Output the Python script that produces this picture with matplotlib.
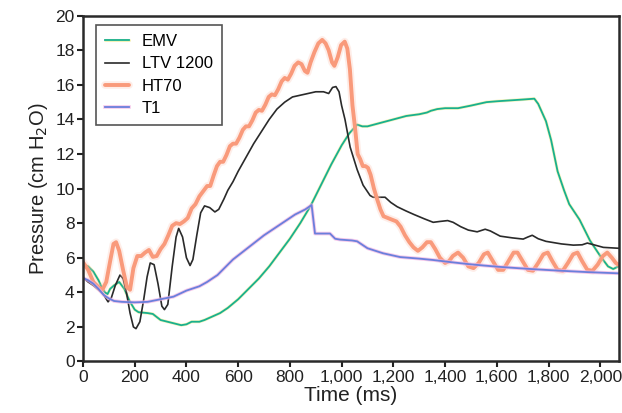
import matplotlib
matplotlib.use("Agg")
import matplotlib.pyplot as plt
from matplotlib.legend_handler import HandlerTuple
from matplotlib.ticker import FuncFormatter

plt.rcParams['font.family'] = ['Liberation Sans', 'DejaVu Sans']

# ---------------- data ----------------
emv_t = [0, 20, 40, 60, 75, 85, 95, 105, 120, 140, 160, 180, 200, 215, 250, 270, 300, 340, 380,
         400, 420, 450, 470, 500, 530, 560, 600, 640, 680, 720, 760, 800, 840, 880, 920, 960,
         1000, 1030, 1060, 1080, 1100, 1150, 1200, 1250, 1300, 1330, 1345, 1370, 1400, 1450,
         1500, 1560, 1600, 1650, 1700, 1745, 1760, 1790, 1810, 1835, 1860, 1880, 1920, 1960,
         2000, 2030, 2050, 2070]
emv_p = [5.6, 5.5, 5.2, 4.7, 4.2, 4.0, 3.9, 4.2, 4.4, 4.6, 4.2, 3.5, 3.0, 2.85, 2.8, 2.75, 2.4,
         2.25, 2.1, 2.15, 2.3, 2.3, 2.4, 2.6, 2.8, 3.1, 3.6, 4.2, 4.8, 5.5, 6.3, 7.1, 8.0, 9.0,
         10.2, 11.4, 12.5, 13.2, 13.7, 13.6, 13.6, 13.8, 14.0, 14.2, 14.3, 14.4, 14.5, 14.6,
         14.65, 14.65, 14.8, 15.0, 15.05, 15.1, 15.15, 15.2, 14.9, 13.9, 12.8, 11.0, 9.9, 9.1,
         8.2, 7.0, 6.1, 5.5, 5.35, 5.5]

ltv_t = [0, 20, 40, 60, 78, 97, 110, 125, 143, 155, 168, 182, 195, 205, 220, 235, 248, 260, 275,
         290, 305, 315, 328, 345, 360, 370, 385, 400, 414, 425, 440, 455, 470, 490, 510, 525,
         545, 560, 580, 600, 630, 660, 690, 720, 750, 780, 810, 840, 870, 900, 930, 950, 965,
         978, 990, 1000, 1013, 1033, 1060, 1083, 1110, 1122, 1168, 1190, 1215, 1250, 1280,
         1320, 1354, 1380, 1410, 1431, 1460, 1490, 1524, 1555, 1575, 1613, 1660, 1702, 1720,
         1737, 1760, 1790, 1850, 1896, 1930, 1950, 1975, 2012, 2070]
ltv_p = [4.85, 4.6, 4.4, 4.15, 3.9, 3.45, 3.7, 4.4, 5.0, 4.8, 4.0, 2.8, 2.0, 1.9, 2.3, 3.6, 4.9,
         5.7, 5.6, 4.5, 3.2, 3.0, 3.3, 5.5, 7.2, 7.7, 7.2, 6.0, 5.55, 5.9, 7.3, 8.6, 9.0, 8.9,
         8.65, 8.8, 9.4, 9.9, 10.4, 11.0, 11.8, 12.6, 13.3, 14.0, 14.6, 15.0, 15.3, 15.4, 15.5,
         15.6, 15.6, 15.5, 15.85, 15.9, 15.6, 14.8, 14.0, 12.4, 11.1, 10.2, 9.6, 9.5, 9.5, 9.2,
         8.95, 8.7, 8.5, 8.25, 8.05, 8.1, 8.15, 8.05, 7.8, 7.6, 7.5, 7.65, 7.55, 7.25, 7.15,
         7.08, 7.2, 7.3, 7.1, 6.95, 6.8, 6.73, 6.75, 6.85, 6.75, 6.6, 6.55]

ht_t = [0, 20, 40, 60, 75, 90, 105, 118, 128, 140, 155, 170, 182, 195, 210, 225, 240, 255, 270,
        285, 300, 315, 330, 345, 360, 375, 390, 405, 420, 435, 450, 465, 480, 492, 505, 518,
        530, 542, 555, 568, 580, 592, 605, 618, 630, 642, 655, 668, 680, 692, 705, 718, 730,
        742, 755, 768, 780, 792, 805, 818, 832, 845, 858, 868, 880, 895, 910, 925, 938, 950,
        963, 972, 985, 998, 1012, 1022, 1032, 1042, 1052, 1062, 1072, 1082, 1092, 1102, 1112,
        1125, 1137, 1150, 1162, 1178, 1195, 1212, 1228, 1245, 1262, 1278, 1295, 1312, 1330,
        1345, 1362, 1380, 1400, 1415, 1430, 1450, 1470, 1490, 1510, 1530, 1550, 1565, 1585,
        1605, 1625, 1645, 1665, 1680, 1700, 1720, 1740, 1760, 1780, 1797, 1815, 1835, 1855,
        1875, 1895, 1912, 1930, 1950, 1970, 1990, 2010, 2027, 2045, 2060, 2070]
ht_p = [5.75, 5.3, 4.6, 4.3, 4.15, 4.6, 5.8, 6.8, 6.9, 6.4, 5.3, 4.3, 4.15, 5.4, 6.1, 6.1, 6.3,
        6.45, 6.05, 6.1, 6.5, 6.8, 7.3, 7.85, 8.0, 7.95, 8.1, 8.3, 8.85, 9.1, 9.55, 9.85, 10.15,
        10.15, 10.75, 11.3, 11.55, 11.55, 11.95, 12.45, 12.6, 12.6, 12.95, 13.4, 13.6, 13.6,
        13.95, 14.4, 14.55, 14.5, 14.85, 15.3, 15.45, 15.4, 15.75, 16.2, 16.4, 16.3, 16.65,
        17.1, 17.3, 17.2, 16.8, 16.7, 17.3, 17.9, 18.4, 18.6, 18.4, 18.0, 17.3, 17.1, 17.6,
        18.3, 18.5, 18.1, 16.9, 14.8, 13.5, 12.0, 11.7, 11.3, 11.3, 11.2, 10.8, 10.0, 9.4,
        8.8, 8.4, 8.3, 8.2, 8.1, 7.8, 7.3, 6.9, 6.6, 6.4, 6.6, 6.9, 6.9, 6.5, 6.0, 5.7, 5.8,
        6.1, 6.3, 6.0, 5.5, 5.4, 5.7, 6.2, 6.3, 5.8, 5.3, 5.3, 5.8, 6.3, 6.3, 5.8, 5.3, 5.25,
        5.7, 6.2, 6.3, 5.8, 5.3, 5.25, 5.7, 6.2, 6.3, 5.8, 5.3, 5.25, 5.6, 6.1, 6.3, 6.0,
        5.7, 5.6]

t1_t = [0, 20, 40, 60, 80, 100, 120, 150, 200, 250, 300, 350, 400, 450, 480, 520, 580, 640, 700,
        760, 820, 860, 884, 897, 920, 955, 975, 994, 1040, 1060, 1080, 1100, 1160,
        1226, 1300, 1354, 1420, 1486, 1550, 1613, 1680, 1741, 1810, 1872, 1950, 2070]
t1_p = [4.83, 4.7, 4.5, 4.2, 3.85, 3.65, 3.5, 3.45, 3.42, 3.45, 3.6, 3.75, 4.1, 4.35, 4.6, 5.0,
        5.9, 6.6, 7.3, 7.9, 8.5, 8.8, 9.05, 7.4, 7.4, 7.4, 7.1, 7.05, 7.0, 6.95,
        6.75, 6.55, 6.26, 6.04, 5.95, 5.87, 5.75, 5.64, 5.55, 5.47, 5.4, 5.34, 5.28, 5.23,
        5.17, 5.1]

labels = ['EMV', 'LTV 1200', 'HT70', 'T1']
x_ticks = list(range(0, 2001, 200))
y_ticks = list(range(0, 21, 2))

# ---------------- figure ----------------
fig = plt.figure(figsize=(6.22, 4.13), dpi=100)
ax = fig.add_axes([0.1334, 0.1247, 0.8616, 0.8373])

# EMV (teal with faint yellow halo)
e_h, = ax.plot(emv_t, emv_p, color='#eee88a', lw=2.2, alpha=0.6, solid_capstyle='round')
e_m, = ax.plot(emv_t, emv_p, color='#18b08e', lw=1.3)
# LTV 1200
l_m, = ax.plot(ltv_t, ltv_p, color='#2a2a2a', lw=1.2)
# HT70 (thick salmon with soft blur)
h_h, = ax.plot(ht_t, ht_p, color='#fcc6b4', lw=5.5, alpha=0.3, solid_capstyle='round')
h_m, = ax.plot(ht_t, ht_p, color='#f99a7b', lw=2.8, solid_capstyle='round')
# T1 (blue with faint pink halo)
t_h, = ax.plot(t1_t, t1_p, color='#f2b3e2', lw=2.6, alpha=0.7)
t_m, = ax.plot(t1_t, t1_p, color='#6a7fdc', lw=1.3)

ax.set_xlim(0, 2072)
ax.set_ylim(0, 20)
ax.set_xticks(x_ticks)
ax.set_yticks(y_ticks)
ax.xaxis.set_major_formatter(FuncFormatter(lambda v, p: f"{int(v):,}"))
ax.tick_params(axis='both', direction='out', length=4, width=1.5, pad=2,
               labelsize=12.5, colors='#222222', top=False, right=False)

for s in ax.spines.values():
    s.set_linewidth(1.8)
    s.set_color('#2a2a2a')

ax.set_xlabel('Time (ms)', fontsize=15, color='#222222', labelpad=1)
ax.set_ylabel('Pressure (cm H$_2$O)', fontsize=14.5, color='#222222', labelpad=4)

leg = ax.legend([(e_h, e_m), l_m, (h_h, h_m), (t_h, t_m)], labels,
                handler_map={tuple: HandlerTuple(ndivide=1)},
                loc='upper left', bbox_to_anchor=(0.024, 0.973), borderaxespad=0,
                fontsize=12, frameon=True, fancybox=False, edgecolor='#555555',
                handlelength=1.45, handletextpad=0.75, labelspacing=0.43,
                borderpad=0.55)
leg.get_frame().set_linewidth(1.2)
leg.get_frame().set_alpha(1)

fig.savefig('out.png', dpi=100)
